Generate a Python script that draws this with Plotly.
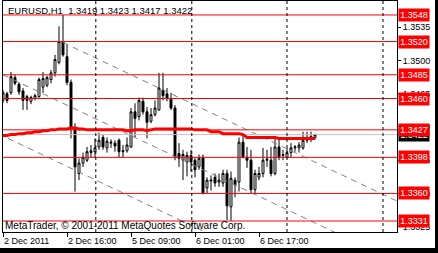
import plotly.graph_objects as go

# ---------------- data ----------------
bar_index = list(range(79))
open_ = [1.3458,1.3465,1.3466,1.3482,1.3475,1.3468,1.3462,1.3457,1.3460,1.3462,
         1.3472,1.3474,1.3480,1.3487,1.3498,1.3520,1.3504,1.3477,1.3429,1.3381,
         1.3392,1.3395,1.3403,1.3404,1.3409,1.3419,1.3408,1.3413,1.3413,1.3416,
         1.3404,1.3405,1.3409,1.3446,1.3441,1.3457,1.3446,1.3436,1.3443,1.3448,
         1.3469,1.3465,1.3460,1.3450,1.3402,1.3395,1.3393,1.3400,1.3395,1.3388,
         1.3398,1.3366,1.3373,1.3377,1.3372,1.3371,1.3381,1.3346,1.3374,1.3372,
         1.3414,1.3398,1.3395,1.3364,1.3377,1.3381,1.3395,1.3395,1.3381,1.3409,
         1.3400,1.3398,1.3403,1.3408,1.3408,1.3408,1.3416,1.3419,1.3419]
high = [1.3469,1.3467,1.3488,1.3485,1.3477,1.3471,1.3464,1.3463,1.3465,1.3482,
        1.3488,1.3484,1.3490,1.3506,1.3536,1.3548,1.3517,1.3480,1.3434,1.3397,
        1.3403,1.3409,1.3411,1.3418,1.3424,1.3422,1.3419,1.3417,1.3416,1.3418,
        1.3411,1.3419,1.3450,1.3455,1.3461,1.3461,1.3451,1.3450,1.3458,1.3487,
        1.3487,1.3471,1.3466,1.3453,1.3413,1.3406,1.3404,1.3406,1.3398,1.3401,
        1.3401,1.3377,1.3379,1.3381,1.3381,1.3385,1.3385,1.3383,1.3377,1.3419,
        1.3422,1.3409,1.3406,1.3385,1.3388,1.3408,1.3406,1.3409,1.3418,1.3418,
        1.3406,1.3408,1.3413,1.3411,1.3414,1.3425,1.3425,1.3425,1.3423]
low = [1.3455,1.3455,1.3464,1.3474,1.3464,1.3448,1.3448,1.3454,1.3458,1.3461,
       1.3466,1.3472,1.3476,1.3483,1.3496,1.3504,1.3474,1.3418,1.3362,1.3374,
       1.3388,1.3393,1.3398,1.3398,1.3406,1.3406,1.3403,1.3408,1.3404,1.3398,
       1.3398,1.3403,1.3408,1.3419,1.3437,1.3443,1.3418,1.3434,1.3441,1.3447,
       1.3458,1.3457,1.3448,1.3395,1.3388,1.3374,1.3378,1.3383,1.3377,1.3385,
       1.3359,1.3360,1.3363,1.3367,1.3367,1.3367,1.3332,1.3331,1.3356,1.3362,
       1.3397,1.3387,1.3360,1.3360,1.3374,1.3377,1.3388,1.3378,1.3379,1.3395,
       1.3395,1.3397,1.3398,1.3404,1.3403,1.3406,1.3413,1.3414,1.3417]
close = [1.3466,1.3458,1.3483,1.3476,1.3467,1.3458,1.3458,1.3461,1.3463,1.3480,
         1.3481,1.3482,1.3487,1.3501,1.3520,1.3506,1.3477,1.3429,1.3388,1.3392,
         1.3398,1.3404,1.3405,1.3408,1.3416,1.3409,1.3415,1.3414,1.3410,1.3404,
         1.3405,1.3411,1.3446,1.3439,1.3458,1.3446,1.3435,1.3443,1.3450,1.3471,
         1.3463,1.3460,1.3450,1.3398,1.3397,1.3401,1.3400,1.3393,1.3385,1.3397,
         1.3360,1.3374,1.3374,1.3371,1.3374,1.3381,1.3347,1.3376,1.3369,1.3414,
         1.3398,1.3395,1.3364,1.3381,1.3381,1.3395,1.3396,1.3381,1.3409,1.3398,
         1.3401,1.3403,1.3408,1.3409,1.3411,1.3416,1.3419,1.3420,1.3422]
ma = [1.3421,1.3421,1.3422,1.3422,1.3423,1.3423,1.3424,1.3424,1.3425,1.3425,
      1.3426,1.3426,1.3427,1.3427,1.3428,1.3428,1.3428,1.3429,1.3429,1.3428,
      1.3428,1.3427,1.3427,1.3427,1.3427,1.3427,1.3427,1.3427,1.3427,1.3427,
      1.3427,1.3426,1.3426,1.3427,1.3427,1.3427,1.3426,1.3427,1.3428,1.3428,
      1.3428,1.3428,1.3428,1.3428,1.3428,1.3428,1.3428,1.3428,1.3427,1.3427,
      1.3427,1.3427,1.3425,1.3425,1.3425,1.3423,1.3423,1.3423,1.3423,1.3423,
      1.3422,1.3419,1.3419,1.3419,1.3419,1.3419,1.3419,1.3419,1.3419,1.3418,
      1.3418,1.3418,1.3418,1.3418,1.3418,1.3418,1.3418,1.3418,1.3418]

level_prices = [1.3548, 1.3520, 1.3485, 1.3460, 1.3427, 1.3398, 1.3360, 1.3331]
bid_price = 1.3422

# channel lines: (bar index, price) endpoints
chan_a_x = [15, 98.5]
chan_a_y = [1.3519, 1.3352]
chan_b_x = [0, 90]
chan_b_y = [1.3485, 1.3305]
chan_c_x = [1.25, 60]
chan_c_y = [1.3418, 1.33005]

separator_x = [23.2, 47.2, 71, 95]

ytick_vals = [1.3325, 1.3360, 1.3395, 1.3430, 1.3465, 1.3500, 1.3535]
xtick_vals = [0, 16, 32, 48, 64]
xtick_text = ["2 Dec 2011", "2 Dec 16:00", "5 Dec 09:00", "6 Dec 01:00", "6 Dec 17:00"]

header = "EURUSD,H1\u00a0\u00a01.3419\u00a01.3423\u00a01.3417\u00a01.3422"
copyright_text = "MetaTrader, \u00a9 2001-2011 MetaQuotes Software Corp."

FONT = "Liberation Sans, Arial, sans-serif"

# ---------------- figure ----------------
fig = go.Figure()

def add_line(xs, ys):
    fig.add_trace(go.Scatter(x=xs, y=ys, mode="lines",
                             line=dict(color="#808080", width=1, dash="6px,5px"),
                             hoverinfo="skip", showlegend=False))

add_line(chan_a_x, chan_a_y)
add_line(chan_b_x, chan_b_y)
add_line(chan_c_x, chan_c_y)

fig.add_trace(go.Scatter(x=[-1, 100], y=[bid_price, bid_price], mode="lines",
                         line=dict(color="#C0C0C0", width=1),
                         hoverinfo="skip", showlegend=False))

fig.add_trace(go.Scatter(x=bar_index, y=ma, mode="lines",
                         line=dict(color="#FF0000", width=3),
                         hoverinfo="skip", showlegend=False))

fig.add_trace(go.Candlestick(
    x=bar_index, open=open_, high=high, low=low, close=close,
    increasing=dict(line=dict(color="black", width=1), fillcolor="white"),
    decreasing=dict(line=dict(color="black", width=1), fillcolor="black"),
    whiskerwidth=0, showlegend=False))

shapes = []
for lv in level_prices:
    shapes.append(dict(type="line", xref="paper", x0=0, x1=1, yref="y", y0=lv, y1=lv,
                       line=dict(color="#FF0000", width=1), layer="above"))
for sx in separator_x:
    shapes.append(dict(type="line", xref="x", x0=sx, x1=sx, yref="paper", y0=0, y1=1,
                       line=dict(color="black", width=1, dash="3px,3px"), layer="above"))
# black window edges (right and bottom)
shapes.append(dict(type="rect", xref="paper", yref="paper", x0=(435 - 3) / 394, x1=1.3,
                   y0=-0.3, y1=1.2, fillcolor="black", line=dict(width=0), layer="above"))
shapes.append(dict(type="rect", xref="paper", yref="paper", x0=-0.1, x1=1.3,
                   y0=-0.3, y1=(232 - 248) / 231, fillcolor="black", line=dict(width=0), layer="above"))

annotations = []
annotations.append(dict(xref="paper", x=1, xanchor="left", xshift=1, yref="y", y=bid_price,
                        yanchor="middle", text="{:.4f}".format(bid_price), showarrow=False,
                        bgcolor="black", font=dict(color="white", size=9, family=FONT),
                        borderpad=1, width=28))
for lv in level_prices:
    annotations.append(dict(xref="paper", x=1, xanchor="left", xshift=1, yref="y", y=lv,
                            yanchor="middle", text="{:.4f}".format(lv), showarrow=False,
                            bgcolor="#FF0000", font=dict(color="white", size=9, family=FONT),
                            borderpad=1, width=28))
annotations.append(dict(xref="paper", x=0, xanchor="left", xshift=3, yref="paper", y=1,
                        yanchor="top", yshift=-2, text=header, showarrow=False,
                        font=dict(color="black", size=9.5, family=FONT)))
annotations.append(dict(xref="paper", x=0, xanchor="left", xshift=0, yref="paper", y=0,
                        yanchor="bottom", yshift=-1, text=copyright_text, showarrow=False,
                        font=dict(color="black", size=10, family=FONT)))

fig.update_layout(
    width=438, height=253,
    margin=dict(l=3, r=41, t=1, b=21, pad=0),
    paper_bgcolor="white", plot_bgcolor="white",
    showlegend=False,
    font=dict(family=FONT, size=9, color="black"),
    shapes=shapes, annotations=annotations,
    xaxis=dict(range=[0, 98.5], showgrid=False, zeroline=False,
               showline=True, linecolor="black", linewidth=1, mirror=True,
               ticks="outside", ticklen=4, tickcolor="black", tickwidth=1,
               tickvals=xtick_vals, ticktext=xtick_text,
               ticklabelposition="outside right",
               tickfont=dict(size=9, family=FONT, color="black"),
               rangeslider=dict(visible=False), fixedrange=True),
    yaxis=dict(range=[1.33194, 1.35627], side="right", showgrid=False, zeroline=False,
               showline=True, linecolor="black", linewidth=1, mirror=True,
               ticks="outside", ticklen=3, tickcolor="black", tickwidth=1,
               tickvals=ytick_vals, ticktext=["{:.4f}".format(v) for v in ytick_vals],
               tickfont=dict(size=9, family=FONT, color="black"), fixedrange=True),
)

fig.write_html("out.html")
